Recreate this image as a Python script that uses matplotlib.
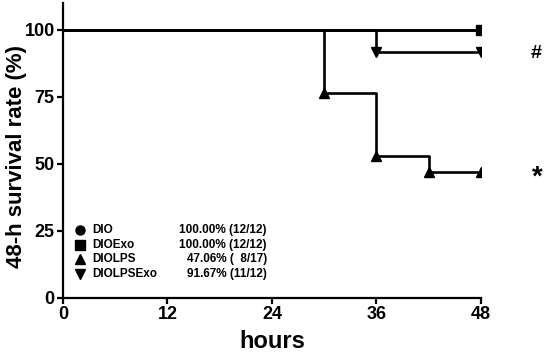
import matplotlib.pyplot as plt

plt.rcParams['font.family'] = ['Liberation Sans', 'DejaVu Sans']
plt.rcParams['font.weight'] = 'bold'

# survival curves (hours, % surviving)
dio_t = [0, 48]
dio_s = [100, 100]
dioexo_t = [0, 48]
dioexo_s = [100, 100]
diolps_t = [0, 30, 36, 42, 48]
diolps_s = [100, 76.47, 52.94, 47.06, 47.06]
diolpsexo_t = [0, 36, 48]
diolpsexo_s = [100, 91.67, 91.67]

groups = ['DIO', 'DIOExo', 'DIOLPS', 'DIOLPSExo']
final_pct = [100.00, 100.00, 47.06, 91.67]
survivors = [12, 12, 8, 11]
totals = [12, 12, 17, 12]
markers = ['o', 's', '^', 'v']

fig = plt.figure(figsize=(5.5, 3.55), dpi=100)
ax = fig.add_axes([0.1145, 0.1606, 0.76, 0.831])

curves = [(dio_t, dio_s), (dioexo_t, dioexo_s), (diolps_t, diolps_s), (diolpsexo_t, diolpsexo_s)]
for (t, s), m in zip(curves, markers):
    ax.plot(t, s, drawstyle='steps-post', color='black', lw=1.9)
    ax.plot(t[1:], s[1:], ls='none', marker=m, color='black', ms=6.5)

ax.text(54.3, 91, '#', fontsize=14, ha='center', va='center')
ax.text(54.5, 45, '*', fontsize=20, ha='center', va='center')

# legend block
for i, (g, p, n, tot, m) in enumerate(zip(groups, final_pct, survivors, totals, markers)):
    y = 0.23 - i * 0.049
    ax.plot(0.04, y, marker=m, color='black', ms=6.5, transform=ax.transAxes, clip_on=False)
    ax.text(0.07, y, g, fontsize=8.5, va='center', transform=ax.transAxes)
    ax.text(0.488, y, '%.2f%% (%s/%d)' % (p, str(n).rjust(2).replace(' ', '  '), tot),
            fontsize=8.5, va='center', ha='right', transform=ax.transAxes)

ax.set_xlim(0, 48)
ax.set_ylim(0, 110)
ax.set_xticks([0, 12, 24, 36, 48])
ax.set_yticks([0, 25, 50, 75, 100])
ax.spines['top'].set_visible(False)
ax.spines['right'].set_visible(False)
ax.spines['left'].set_linewidth(1.6)
ax.spines['bottom'].set_linewidth(1.6)
ax.tick_params(width=1.6, length=4, labelsize=13, pad=2)
ax.set_xlabel('hours', fontsize=17, fontweight='bold', labelpad=5)
ax.set_ylabel('48-h survival rate (%)', fontsize=16, fontweight='bold')
ax.yaxis.set_label_coords(-0.086, 0.48)

plt.savefig('out.png', dpi=100)
